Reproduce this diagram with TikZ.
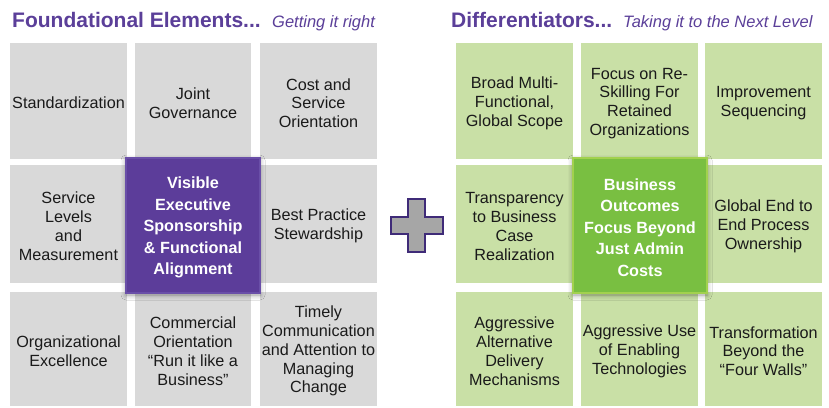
\documentclass[tikz,border=0pt]{standalone}
\usepackage{fontspec}
\setmainfont{Liberation Sans}
\usetikzlibrary{shadows.blur}

\definecolor{titlepurple}{HTML}{5B3F99}
\definecolor{cellgray}{HTML}{D9D9D9}
\definecolor{cellgreen}{HTML}{C9E0A6}
\definecolor{corepurple}{HTML}{5C3D9A}
\definecolor{corepurpleedge}{HTML}{6A4FA8}
\definecolor{coregreen}{HTML}{79BF41}
\definecolor{coregreenedge}{HTML}{A2D14E}
\definecolor{plusedge}{HTML}{3F2B78}
\definecolor{plusfill}{HTML}{A6A6A6}
\definecolor{celltext}{HTML}{1A1A1A}

% a tall invisible rule on the first line sets each text block a little lower
\newcommand{\toppad}{\rule{0pt}{16pt}}

\tikzset{
  cell/.style={minimum width=117pt, inner sep=0pt, align=center,
    font=\fontsize{16.2}{18.8}\selectfont, text=celltext},
  graycell/.style={cell, fill=cellgray},
  greencell/.style={cell, fill=cellgreen},
  core/.style={minimum width=134pt, minimum height=135pt, inner sep=0pt,
    align=center, font=\bfseries\fontsize{16.2}{21.5}\selectfont, text=white,
    line width=1.2pt,
    blur shadow={shadow xshift=0pt, shadow yshift=-2pt,
      shadow blur radius=5pt, shadow opacity=40}},
  heading/.style={anchor=base west, inner sep=0pt, text=titlepurple,
    font=\bfseries\fontsize{21}{24}\selectfont},
  subheading/.style={anchor=base west, inner sep=0pt, text=titlepurple,
    font=\itshape\fontsize{16.5}{20}\selectfont},
}

\begin{document}
\begin{tikzpicture}[x=1pt, y=-1pt]
\useasboundingbox (0,0) rectangle (829,407);
\fill[white] (0,0) rectangle (829,407);

% ---- headings
\node[heading] (ftitle) at (12,27.5) {Foundational Elements...};
\node[subheading] (fsub) at (272,27.5) {Getting it right};
\node[heading] (dtitle) at (451,27.5) {Differentiators...};
\node[subheading] (dsub) at (623,27.5) {Taking it to the Next Level};

% ---- foundational grid
\node[graycell, minimum height=116pt] (f11) at (68.5,101) {\toppad Standardization};
\node[graycell, minimum height=116pt, minimum width=116pt] (f12) at (193,101) {\toppad Joint\\Governance};
\node[graycell, minimum height=116pt] (f13) at (318.5,101) {\toppad Cost and\\Service\\Orientation};
\node[graycell, minimum height=118pt] (f21) at (68.5,224) {\toppad Service\\Levels\\and\\Measurement};
\node[graycell, minimum height=118pt] (f23) at (318.5,224) {\toppad Best Practice\\Stewardship};
\node[graycell, minimum height=114pt] (f31) at (68.5,349) {\toppad Organizational\\Excellence};
\node[graycell, minimum height=114pt, minimum width=116pt] (f32) at (193,349) {\toppad Commercial\\Orientation\\“Run it like a\\Business”};
\node[graycell, minimum height=114pt] (f33) at (318.5,349) {\toppad Timely\\Communication\\and Attention to\\Managing\\Change};

\node[core, fill=corepurple, draw=corepurpleedge] (fcore) at (193,225.5)
  {\toppad Visible\\Executive\\Sponsorship\\\& Functional\\Alignment};

% ---- differentiator grid
\node[greencell, minimum height=116pt] (d11) at (514.5,101) {\toppad Broad Multi-\\Functional,\\Global Scope};
\node[greencell, minimum height=116pt] (d12) at (639.5,101) {\toppad Focus on Re-\\Skilling For\\Retained\\Organizations};
\node[greencell, minimum height=116pt] (d13) at (763.5,101) {\toppad Improvement\\Sequencing};
\node[greencell, minimum height=118pt] (d21) at (514.5,224) {\toppad Transparency\\to Business\\Case\\Realization};
\node[greencell, minimum height=118pt] (d23) at (763.5,224) {\toppad Global End to\\End Process\\Ownership};
\node[greencell, minimum height=114pt] (d31) at (514.5,349) {\toppad Aggressive\\Alternative\\Delivery\\Mechanisms};
\node[greencell, minimum height=114pt] (d32) at (639.5,349) {\toppad Aggressive Use\\of Enabling\\Technologies};
\node[greencell, minimum height=114pt] (d33) at (763.5,349) {\toppad Transformation\\Beyond the\\“Four Walls”};

\node[core, fill=coregreen, draw=coregreenedge] (dcore) at (640,225.5)
  {\toppad Business\\Outcomes\\Focus Beyond\\Just Admin\\Costs};

% ---- plus sign between the two grids
\draw[plusedge, fill=plusfill, line width=2.6pt, line join=miter]
  (408,199) -- (425,199) -- (425,217) -- (443,217) -- (443,234) -- (425,234)
  -- (425,252) -- (408,252) -- (408,234) -- (391,234) -- (391,217) -- (408,217)
  -- cycle;
\end{tikzpicture}
\end{document}
